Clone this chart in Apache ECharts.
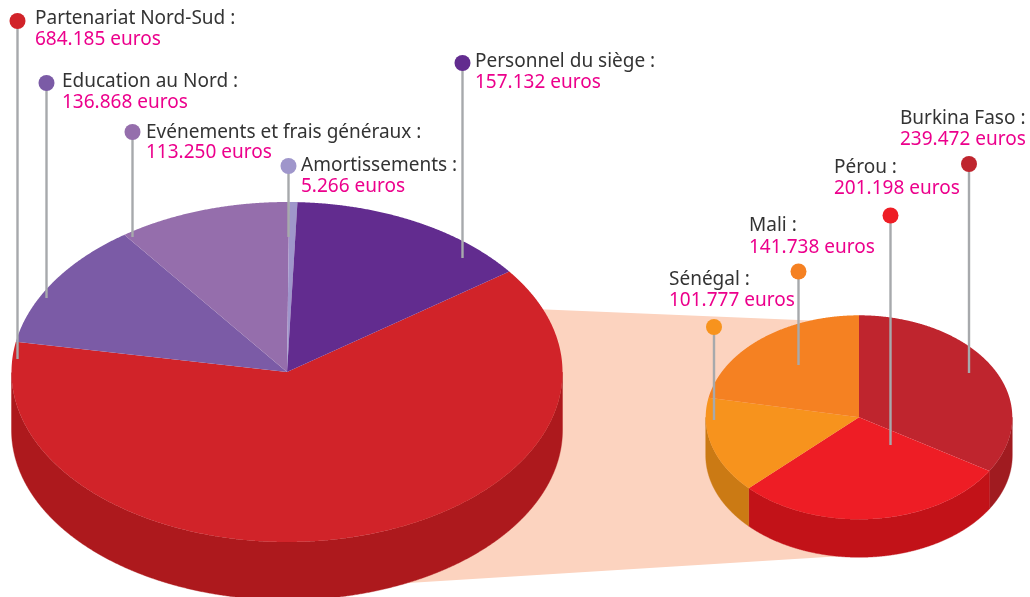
<!DOCTYPE html>
<html>
<head>
<meta charset="utf-8">
<title>Repartition des depenses</title>
<script src="https://cdn.jsdelivr.net/npm/echarts@6/dist/echarts.min.js"></script>
<style>
  html, body { margin: 0; padding: 0; background: #fff; }
  #main { width: 1030px; height: 597px; }
</style>
</head>
<body>
<div id="main"></div>
<script>
// Donnees, dans le sens horaire
var bigNames = ['Partenariat Nord-Sud', 'Education au Nord', 'Evénements et frais généraux', 'Amortissements', 'Personnel du siège'];
var bigValues = [684185, 136868, 113250, 5266, 157132];
var smallNames = ['Burkina Faso', 'Pérou', 'Sénégal', 'Mali'];
var smallValues = [239472, 201198, 101777, 141738];

// Couleurs
var bigTop = ['#d12329', '#7b5ba6', '#956eac', '#9f96cb', '#622c8f'];
var bigSide = ['#ad191d', '#ad191d', '#ad191d', '#ad191d', '#ad191d'];
var smallTop = ['#bf252e', '#ee1d25', '#f7931d', '#f58122'];
var smallSide = ['#a01b20', '#c21218', '#cb7a14', '#cb7a14'];

// Geometrie des deux camemberts (skew et wave corrigent la projection du dessin)
var bigPie = { cx: 287, cy: 372, rx: 275.5, ry: 170, depth: 58, start: 36.2, skew: -3.5, pow: 1, wave: -2 };
var smallPie = { cx: 859, cy: 417.3, rx: 153.3, ry: 102, depth: 38, start: 90, skew: 6, pow: 1.3, wave: 0 };

// Bande qui relie les deux camemberts
var bandShape = [[450, 305.4], [859, 322.4], [859, 554.9], [380, 584.8]];

// Etiquettes: pastille x, y, fin du trait, texte x, y du nom, y du montant
var bigPins = [
    [17.5, 21, 359, 35, 19, 40],
    [46.5, 83, 298, 62, 82, 103],
    [132.5, 132, 237, 146, 133, 153],
    [288.5, 166, 237, 301, 166, 187],
    [462.5, 63, 258, 475, 62, 83]
];
var smallPins = [
    [969, 164, 373, 900, 119, 140],
    [890.5, 215.5, 445, 834, 168, 189],
    [714, 327, 420, 669, 280, 301],
    [798.5, 271.5, 365, 749, 226, 248]
];

function euros(v) {
    return String(v).replace(/(\d)(?=(\d{3})+$)/g, '$1.') + ' euros';
}

// Angles de debut et de fin de chaque part
function sliceAngles(pie, values) {
    var total = values.reduce(function (a, b) { return a + b; }, 0);
    var run = 0;
    function at(t) {
        return pie.start - 360 * t
            + pie.skew * Math.sin(Math.PI * Math.pow(t, pie.pow))
            + pie.wave * Math.sin(2 * Math.PI * t);
    }
    return values.map(function (v) {
        var a = at(run / total);
        run += v;
        return [a, at(run / total)];
    });
}

function edgePoint(pie, deg, dy) {
    var r = deg * Math.PI / 180;
    return [pie.cx + pie.rx * Math.cos(r), pie.cy - pie.ry * Math.sin(r) + dy];
}

function arcAngles(a, b) {
    var list = [];
    for (var d = a; d > b; d -= 0.25) list.push(d);
    list.push(b);
    return list;
}

function pieSeries(pie, values, topColors, sideColors) {
    var angles = sliceAngles(pie, values);
    return {
        type: 'custom',
        coordinateSystem: 'cartesian2d',
        silent: true,
        clip: false,
        data: values,
        renderItem: function (params, api) {
            var i = params.dataIndex;
            var arc = arcAngles(angles[i][0], angles[i][1]);
            var toPx = function (p) { return api.coord(p); };
            // Flanc: seulement la partie tournee vers le bas
            var front = arc.filter(function (d) { return Math.sin(d * Math.PI / 180) <= 0; });
            var side = front.map(function (d) { return edgePoint(pie, d, 0); })
                .concat(front.slice().reverse().map(function (d) { return edgePoint(pie, d, pie.depth); }));
            var top = [[pie.cx, pie.cy]].concat(arc.map(function (d) { return edgePoint(pie, d, 0); }));
            var children = [];
            if (side.length > 2) {
                children.push({
                    type: 'polygon',
                    shape: { points: side.map(toPx) },
                    style: { fill: sideColors[i], stroke: sideColors[i], lineWidth: 0.4 }
                });
            }
            children.push({
                type: 'polygon',
                shape: { points: top.map(toPx) },
                style: { fill: topColors[i] }
            });
            return { type: 'group', children: children };
        }
    };
}

function pinSeries(names, values, pins, colors) {
    return {
        type: 'custom',
        coordinateSystem: 'cartesian2d',
        silent: true,
        clip: false,
        z: 5,
        data: values,
        renderItem: function (params, api) {
            var i = params.dataIndex;
            var p = pins[i];
            var a = api.coord([p[0], p[1]]);
            var b = api.coord([p[0], p[2]]);
            return {
                type: 'group',
                children: [{
                    type: 'line',
                    shape: { x1: a[0], y1: a[1], x2: b[0], y2: b[1] },
                    style: { stroke: '#a7a9ac', lineWidth: 2.4 }
                }, {
                    type: 'circle',
                    shape: { cx: a[0], cy: a[1], r: 8 },
                    style: { fill: colors[i] }
                }, {
                    type: 'text',
                    style: {
                        x: p[3], y: p[4], text: names[i] + ' :',
                        fill: '#333333', font: '19px "Noto Sans"',
                        verticalAlign: 'middle'
                    }
                }, {
                    type: 'text',
                    style: {
                        x: p[3], y: p[5], text: euros(values[i]),
                        fill: '#ec008c', font: '19px "Noto Sans"',
                        verticalAlign: 'middle'
                    }
                }]
            };
        }
    };
}

var grafico = echarts.init(document.getElementById('main'));
var option = {
    animation: false,
    backgroundColor: '#ffffff',
    grid: { left: 0, right: 0, top: 0, bottom: 0 },
    xAxis: { type: 'value', min: 0, max: 1030, show: false },
    yAxis: { type: 'value', min: 0, max: 597, inverse: true, show: false },
    series: [
        {
            type: 'custom',
            coordinateSystem: 'cartesian2d',
            silent: true,
            data: [0],
            renderItem: function (params, api) {
                return {
                    type: 'polygon',
                    shape: { points: bandShape.map(function (p) { return api.coord(p); }) },
                    style: { fill: '#fcd3bf' }
                };
            }
        },
        pieSeries(bigPie, bigValues, bigTop, bigSide),
        pieSeries(smallPie, smallValues, smallTop, smallSide),
        pinSeries(bigNames, bigValues, bigPins, bigTop),
        pinSeries(smallNames, smallValues, smallPins, smallTop)
    ]
};
grafico.setOption(option);
</script>
</body>
</html>
